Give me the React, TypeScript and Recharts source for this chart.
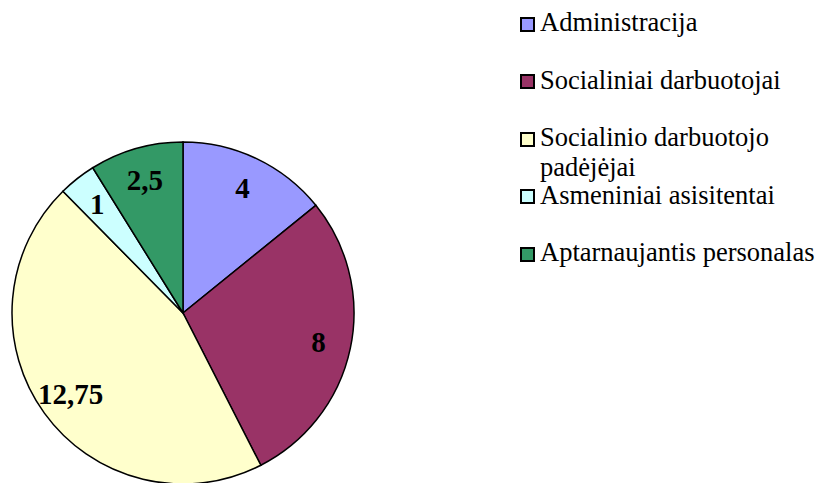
import { PieChart, Pie, Cell, Legend } from "recharts";

const CATEGORIES = [
  "Administracija",
  "Socialiniai darbuotojai",
  "Socialinio darbuotojo padėjėjai",
  "Asmeniniai asisitentai",
  "Aptarnaujantis personalas",
];
const VALUES = [4, 8, 12.75, 1, 2.5];
const COLORS = ["#9999FF", "#993366", "#FFFFCC", "#CCFFFF", "#339966"];

const data = CATEGORIES.map((name, i) => ({ name, value: VALUES[i] }));

const RADIAN = Math.PI / 180;
const FONT = "'Liberation Serif', 'Times New Roman', serif";

const renderLabel = (props: any) => {
  const { cx, cy, midAngle, outerRadius, value } = props;
  const r = outerRadius * 0.81;
  const x = cx + r * Math.cos(-midAngle * RADIAN);
  const y = cy + r * Math.sin(-midAngle * RADIAN);
  return (
    <text
      x={x}
      y={y}
      fill="#000"
      textAnchor="middle"
      dominantBaseline="central"
      style={{ fontFamily: FONT, fontSize: 29, fontWeight: 700 }}
    >
      {String(value).replace(".", ",")}
    </text>
  );
};

// keep the legend in data order (recharts sorts it by name otherwise)
const renderLegend = () => (
  <div style={{ fontFamily: FONT, fontSize: 26.5, color: "#000" }}>
    {CATEGORIES.map((name, i) => (
      <div key={name} style={{ position: "relative", height: 57.5 }}>
        <div
          style={{
            position: "absolute",
            left: 0,
            top: 8.7,
            width: 15,
            height: 15,
            boxSizing: "border-box",
            border: "2px solid #000",
            background: COLORS[i],
          }}
        />
        <div
          style={{
            position: "absolute",
            left: 20,
            top: 0,
            width: 285,
            lineHeight: "29.5px",
            whiteSpace: "normal",
          }}
        >
          {name}
        </div>
      </div>
    ))}
  </div>
);

export default function App() {
  return (
    <div
      style={{
        position: "absolute",
        left: 0,
        top: 0,
        width: 822,
        height: 483,
        overflow: "hidden",
        background: "#fff",
        fontFamily: FONT,
      }}
    >
      <PieChart width={822} height={483} margin={{ top: 0, right: 0, bottom: 0, left: 0 }}>
        <Pie
          data={data}
          dataKey="value"
          nameKey="name"
          cx={183}
          cy={313}
          outerRadius={171}
          startAngle={90}
          endAngle={-270}
          stroke="#000"
          strokeWidth={1.5}
          label={renderLabel}
          labelLine={false}
          isAnimationActive={false}
        >
          {data.map((d, i) => (
            <Cell key={d.name} fill={COLORS[i]} />
          ))}
        </Pie>
        <Legend
          layout="vertical"
          align="right"
          verticalAlign="top"
          content={renderLegend}
          wrapperStyle={{ left: 520, top: 8, width: 302 }}
        />
      </PieChart>
    </div>
  );
}
